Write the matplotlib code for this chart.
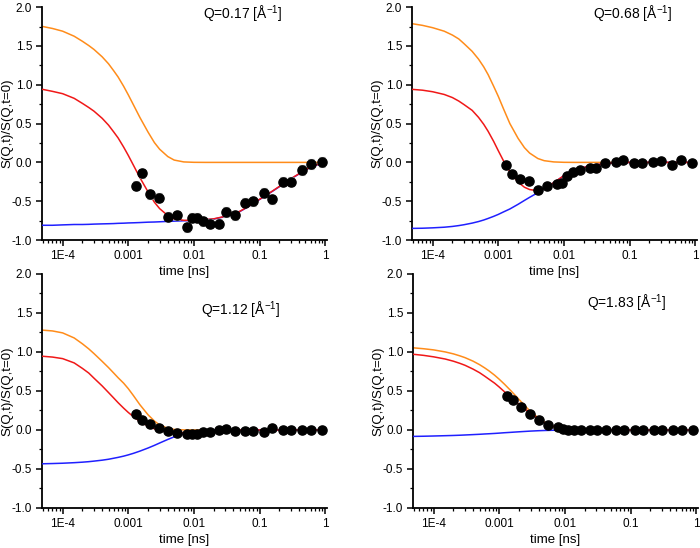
import matplotlib
matplotlib.use('Agg')
import matplotlib.pyplot as plt
from matplotlib.ticker import (FixedLocator, FixedFormatter, LogLocator, MultipleLocator,
                               NullFormatter, FormatStrFormatter)

plt.rcParams['font.family'] = ['Liberation Sans', 'DejaVu Sans']
plt.rcParams['axes.unicode_minus'] = False

# time of the data points (ns)
t_data = [0.00129, 0.00164, 0.00217, 0.00297, 0.00403, 0.00558, 0.00783, 0.00944, 0.0110,
          0.0137, 0.0173, 0.0245, 0.0313, 0.0425, 0.0610, 0.0796, 0.116, 0.153, 0.228,
          0.305, 0.448, 0.605, 0.900]

t_fit = [5e-5, 7e-5, 1e-4, 1.5e-4, 2e-4, 2.5e-4, 3e-4, 4e-4, 5e-4, 6e-4, 7e-4, 8.5e-4,
         1e-3, 1.2e-3, 1.5e-3, 2e-3, 2.5e-3, 3e-3, 4e-3, 5e-3, 7e-3, 1e-2, 1.5e-2, 2e-2,
         3e-2, 5e-2, 7e-2, 0.1, 0.15, 0.2, 0.3, 0.5, 0.7, 1.0]

q_labels = ['0.17', '0.68', '1.12', '1.83']

# Q = 0.17
data_017 = [-0.30, -0.14, -0.41, -0.455, -0.70, -0.68, -0.835, -0.71, -0.71, -0.76, -0.79, -0.79,
            -0.64, -0.68, -0.52, -0.50, -0.39, -0.475, -0.25, -0.25, -0.10, -0.02, 0.0]
err_017 = [0.06, 0.06, 0.06, 0.06, 0.06, 0.06, 0.06, 0.06, 0.06, 0.06, 0.06, 0.06,
           0.06, 0.06, 0.06, 0.06, 0.06, 0.06, 0.06, 0.06, 0.06, 0.065, 0.065]
orange_017 = [1.75, 1.725, 1.69, 1.625, 1.56, 1.505, 1.455, 1.36, 1.27, 1.18, 1.10, 0.98,
              0.87, 0.74, 0.58, 0.39, 0.255, 0.17, 0.075, 0.03, 0.006, 0.001,
              0, 0, 0, 0, 0, 0, 0, 0, 0, 0, 0, 0]
red_017 = [0.94, 0.915, 0.885, 0.825, 0.76, 0.707, 0.66, 0.568, 0.48, 0.392, 0.315, 0.197,
           0.09, -0.038, -0.195, -0.38, -0.513, -0.595, -0.685, -0.727, -0.746, -0.747,
           -0.737, -0.727, -0.695, -0.63, -0.56, -0.475, -0.38, -0.31, -0.21, -0.095, -0.035, -0.005]
blue_017 = [-0.81, -0.81, -0.805, -0.80, -0.80, -0.798, -0.795, -0.792, -0.79, -0.788, -0.785, -0.783,
            -0.78, -0.778, -0.775, -0.77, -0.768, -0.765, -0.76, -0.757, -0.752, -0.748,
            -0.74, -0.73, -0.698, -0.633, -0.563, -0.478, -0.383, -0.313, -0.213, -0.098, -0.038, -0.008]

# Q = 0.68
data_068 = [-0.03, -0.145, -0.215, -0.245, -0.35, -0.305, -0.28, -0.26, -0.18, -0.125, -0.10, -0.07,
            -0.07, -0.01, 0.01, 0.03, -0.01, -0.005, 0.005, 0.015, -0.035, 0.025, -0.01]
orange_068 = [1.785, 1.765, 1.735, 1.69, 1.64, 1.59, 1.53, 1.43, 1.33, 1.23, 1.13, 0.98,
              0.85, 0.69, 0.50, 0.31, 0.19, 0.12, 0.05, 0.022, 0.006, 0.001,
              0, 0, 0, 0, 0, 0, 0, 0, 0, 0, 0, 0]
red_068 = [0.94, 0.93, 0.91, 0.875, 0.835, 0.79, 0.745, 0.67, 0.58, 0.49, 0.40, 0.27,
           0.15, 0.02, -0.12, -0.255, -0.32, -0.35, -0.365, -0.34, -0.26, -0.17,
           -0.10, -0.065, -0.03, -0.01, -0.003, 0, 0, 0, 0, 0, 0, 0]
blue_068 = [-0.85, -0.848, -0.843, -0.835, -0.825, -0.814, -0.803, -0.782, -0.762, -0.742, -0.722, -0.695,
            -0.67, -0.638, -0.60, -0.54, -0.49, -0.45, -0.39, -0.342, -0.262, -0.172,
            -0.102, -0.067, -0.032, -0.012, -0.004, -0.001, 0, 0, 0, 0, 0, 0]

# Q = 1.12
data_112 = [0.20, 0.125, 0.075, 0.025, -0.01, -0.04, -0.045, -0.045, -0.05, -0.02, -0.02, -0.005,
            0.01, -0.01, -0.01, -0.015, -0.02, 0.03, 0.005, -0.005, 0.0, 0.0, 0.0]
orange_112 = [1.28, 1.27, 1.245, 1.18, 1.105, 1.04, 0.98, 0.88, 0.80, 0.73, 0.67, 0.60,
              0.53, 0.44, 0.325, 0.195, 0.115, 0.065, 0.022, 0.007, 0.001, 0,
              0, 0, 0, 0, 0, 0, 0, 0, 0, 0, 0, 0]
red_112 = [0.945, 0.935, 0.915, 0.86, 0.79, 0.73, 0.665, 0.565, 0.48, 0.41, 0.35, 0.28,
           0.225, 0.17, 0.11, 0.05, 0.015, -0.005, -0.025, -0.033, -0.035, -0.028,
           -0.016, -0.009, -0.003, 0, 0, 0, 0, 0, 0, 0, 0, 0]
blue_112 = [-0.433, -0.430, -0.426, -0.419, -0.4125, -0.406, -0.399, -0.387, -0.375, -0.362, -0.351, -0.335,
            -0.319, -0.299, -0.271, -0.231, -0.197, -0.167, -0.121, -0.088, -0.046, -0.0175,
            -0.0035, -0.0007, 0, 0, 0, 0, 0, 0, 0, 0, 0, 0]

# Q = 1.83
data_183 = [0.44, 0.38, 0.29, 0.205, 0.13, 0.065, 0.035, 0.013, 0.005, 0, 0, 0, 0, 0, 0, 0, 0, 0,
            0, 0, 0, 0, 0]
orange_183 = [1.053, 1.042, 1.027, 1.001, 0.976, 0.951, 0.928, 0.882, 0.838, 0.796, 0.757, 0.702,
              0.650, 0.587, 0.504, 0.391, 0.304, 0.236, 0.15, 0.095, 0.038, 0.01,
              0.001, 0, 0, 0, 0, 0, 0, 0, 0, 0, 0, 0]
red_183 = [0.97, 0.957, 0.938, 0.91, 0.882, 0.855, 0.83, 0.78, 0.735, 0.69, 0.65, 0.60,
           0.55, 0.49, 0.42, 0.33, 0.265, 0.215, 0.14, 0.085, 0.04, 0.012,
           0.002, 0, 0, 0, 0, 0, 0, 0, 0, 0, 0, 0]
blue_183 = [-0.082, -0.080, -0.077, -0.073, -0.070, -0.067, -0.064, -0.059, -0.055, -0.051, -0.048, -0.044,
            -0.040, -0.035, -0.030, -0.023, -0.018, -0.014, -0.009, -0.006, -0.003, -0.001,
            0, 0, 0, 0, 0, 0, 0, 0, 0, 0, 0, 0]

x_ticks = [1e-4, 1e-3, 1e-2, 1e-1, 1]
x_ticklabels = ['1E-4', '0.001', '0.01', '0.1', '1']

panels = [
    (data_017, err_017, orange_017, red_017, blue_017),
    (data_068, None, orange_068, red_068, blue_068),
    (data_112, None, orange_112, red_112, blue_112),
    (data_183, None, orange_183, red_183, blue_183),
]

positions = [[0.060, 0.562, 0.407, 0.425], [0.5886, 0.562, 0.407, 0.425],
             [0.060, 0.073, 0.407, 0.427], [0.590, 0.073, 0.407, 0.427]]
label_xy = [(0.705, 0.97), (0.776, 0.97), (0.698, 0.846), (0.75, 0.876)]

fig = plt.figure(figsize=(7, 5.48), dpi=100)

for i, (data, err, orange, red, blue) in enumerate(panels):
    ax = fig.add_axes(positions[i])
    ax.patch.set_visible(False)
    ax.plot(t_fit, orange, color='#FF8C1A', lw=1.1, zorder=2)
    ax.plot(t_fit, blue, color='#2020FF', lw=1.1, zorder=3)
    ax.plot(t_fit, red, color='#F01818', lw=1.1, zorder=4)
    if err is not None:
        ax.errorbar(t_data, data, yerr=err, fmt='none', ecolor='#A8A8A8', elinewidth=0.8,
                    capsize=2.5, capthick=0.8, zorder=4.5)
    ax.plot(t_data, data, 'o', color='black', markersize=6.6, zorder=5)

    ax.set_xscale('log')
    ax.set_xlim(4.85e-5, 1.06)
    ax.set_ylim(-1.0, 2.0)
    ax.xaxis.set_major_locator(FixedLocator(x_ticks))
    ax.xaxis.set_major_formatter(FixedFormatter(x_ticklabels))
    ax.xaxis.set_minor_locator(LogLocator(base=10, subs=[2, 3, 4, 5, 6, 7, 8, 9], numticks=20))
    ax.xaxis.set_minor_formatter(NullFormatter())
    ax.yaxis.set_major_locator(MultipleLocator(0.5))
    ax.yaxis.set_minor_locator(MultipleLocator(0.25))
    ax.yaxis.set_major_formatter(FormatStrFormatter('%.1f'))

    for s in ['top', 'right']:
        ax.spines[s].set_visible(False)
    for s in ['left', 'bottom']:
        ax.spines[s].set_linewidth(1.3)
    ax.tick_params(which='major', direction='out', length=4, width=1.1, labelsize=8.5, pad=3)
    ax.tick_params(which='minor', direction='out', length=2, width=0.9)

    ax.set_xlabel('time [ns]', fontsize=9.5)
    ax.xaxis.set_label_coords(0.5, -0.112)
    ax.set_ylabel('S(Q,t)/S(Q,t=0)', fontsize=9.5)
    ax.yaxis.set_label_coords(-0.10, 0.5)
    ax.text(label_xy[i][0], label_xy[i][1], 'Q=' + q_labels[i] + r' [Å$^{\mathregular{-1}}$]',
            transform=ax.transAxes, ha='center', va='center', fontsize=10)

fig.savefig('out.png', dpi=100)
